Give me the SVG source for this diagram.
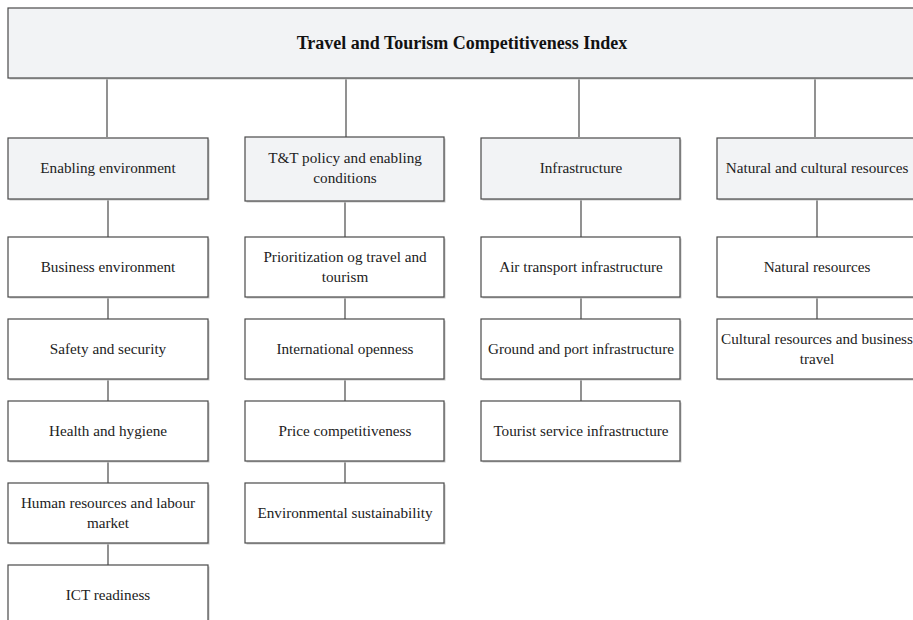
<svg xmlns="http://www.w3.org/2000/svg" width="913" height="620" viewBox="0 0 913 620">
<defs>
<style>
.box{stroke:#4a4a4a;stroke-width:1.2}
.hd{fill:#f2f3f5}
.lf{fill:#ffffff}
.sh{fill:#c8c8c8}
.t{font-family:"Liberation Serif","Times New Roman",serif;font-size:15.2px;fill:#222;text-anchor:middle}
.tt{font-family:"Liberation Serif","Times New Roman",serif;font-size:18px;font-weight:bold;fill:#111;text-anchor:middle}
.c{stroke:#4a4a4a;stroke-width:1.2;fill:none}
</style>
</defs>
<rect width="913" height="620" fill="#ffffff"/>
<g id="connectors">
<path class="c" d="M107 78V137M346 78V137M579 78V137M815 78V137"/>
<path class="c" d="M108 199V237M108 297V319M108 379V401M108 461V483M108 543V565"/>
<path class="c" d="M345 201V237M345 297V319M345 379V401M345 461V483"/>
<path class="c" d="M581 199V237M581 297V319M581 379V401"/>
<path class="c" d="M817 199V237M817 297V319"/>
</g>
<g id="root">
<rect class="sh" x="9.5" y="9.5" width="912" height="70"/>
<rect class="box hd" x="8" y="8" width="912" height="70"/>
<text class="tt" x="462" y="49">Travel and Tourism Competitiveness Index</text>
</g>
<g id="enabling">
<rect class="sh" x="9.5" y="139.5" width="200" height="61"/>
<rect class="box hd" x="8" y="138" width="200" height="61"/>
<text class="t" x="108" y="173">Enabling environment</text>
</g>
<g id="policy">
<rect class="sh" x="246.5" y="138.5" width="199" height="64"/>
<rect class="box hd" x="245" y="137" width="199" height="64"/>
<text class="t" x="345" y="163">T&amp;T policy and enabling</text>
<text class="t" x="345" y="183">conditions</text>
</g>
<g id="infrastructure">
<rect class="sh" x="482.5" y="139.5" width="199" height="61"/>
<rect class="box hd" x="481" y="138" width="199" height="61"/>
<text class="t" x="581" y="173">Infrastructure</text>
</g>
<g id="natural-cultural">
<rect class="sh" x="718.5" y="139.5" width="200" height="61"/>
<rect class="box hd" x="717" y="138" width="200" height="61"/>
<text class="t" x="817" y="173">Natural and cultural resources</text>
</g>
<g id="business">
<rect class="sh" x="9.5" y="238.5" width="200" height="60"/>
<rect class="box lf" x="8" y="237" width="200" height="60"/>
<text class="t" x="108" y="272">Business environment</text>
</g>
<g id="safety">
<rect class="sh" x="9.5" y="320.5" width="200" height="60"/>
<rect class="box lf" x="8" y="319" width="200" height="60"/>
<text class="t" x="108" y="354">Safety and security</text>
</g>
<g id="health">
<rect class="sh" x="9.5" y="402.5" width="200" height="60"/>
<rect class="box lf" x="8" y="401" width="200" height="60"/>
<text class="t" x="108" y="436">Health and hygiene</text>
</g>
<g id="human">
<rect class="sh" x="9.5" y="484.5" width="200" height="60"/>
<rect class="box lf" x="8" y="483" width="200" height="60"/>
<text class="t" x="108" y="508">Human resources and labour</text>
<text class="t" x="108" y="528">market</text>
</g>
<g id="ict">
<rect class="sh" x="9.5" y="566.5" width="200" height="60"/>
<rect class="box lf" x="8" y="565" width="200" height="60"/>
<text class="t" x="108" y="600">ICT readiness</text>
</g>
<g id="prioritization">
<rect class="sh" x="246.5" y="238.5" width="199" height="60"/>
<rect class="box lf" x="245" y="237" width="199" height="60"/>
<text class="t" x="345" y="262">Prioritization og travel and</text>
<text class="t" x="345" y="282">tourism</text>
</g>
<g id="openness">
<rect class="sh" x="246.5" y="320.5" width="199" height="60"/>
<rect class="box lf" x="245" y="319" width="199" height="60"/>
<text class="t" x="345" y="354">International openness</text>
</g>
<g id="price">
<rect class="sh" x="246.5" y="402.5" width="199" height="60"/>
<rect class="box lf" x="245" y="401" width="199" height="60"/>
<text class="t" x="345" y="436">Price competitiveness</text>
</g>
<g id="environmental">
<rect class="sh" x="246.5" y="484.5" width="199" height="60"/>
<rect class="box lf" x="245" y="483" width="199" height="60"/>
<text class="t" x="345" y="518">Environmental sustainability</text>
</g>
<g id="air">
<rect class="sh" x="482.5" y="238.5" width="199" height="60"/>
<rect class="box lf" x="481" y="237" width="199" height="60"/>
<text class="t" x="581" y="272">Air transport infrastructure</text>
</g>
<g id="ground">
<rect class="sh" x="482.5" y="320.5" width="199" height="60"/>
<rect class="box lf" x="481" y="319" width="199" height="60"/>
<text class="t" x="581" y="354">Ground and port infrastructure</text>
</g>
<g id="tourist">
<rect class="sh" x="482.5" y="402.5" width="199" height="60"/>
<rect class="box lf" x="481" y="401" width="199" height="60"/>
<text class="t" x="581" y="436">Tourist service infrastructure</text>
</g>
<g id="natural">
<rect class="sh" x="718.5" y="238.5" width="200" height="60"/>
<rect class="box lf" x="717" y="237" width="200" height="60"/>
<text class="t" x="817" y="272">Natural resources</text>
</g>
<g id="cultural">
<rect class="sh" x="718.5" y="320.5" width="200" height="60"/>
<rect class="box lf" x="717" y="319" width="200" height="60"/>
<text class="t" x="817" y="344">Cultural resources and business</text>
<text class="t" x="817" y="364">travel</text>
</g>
</svg>
